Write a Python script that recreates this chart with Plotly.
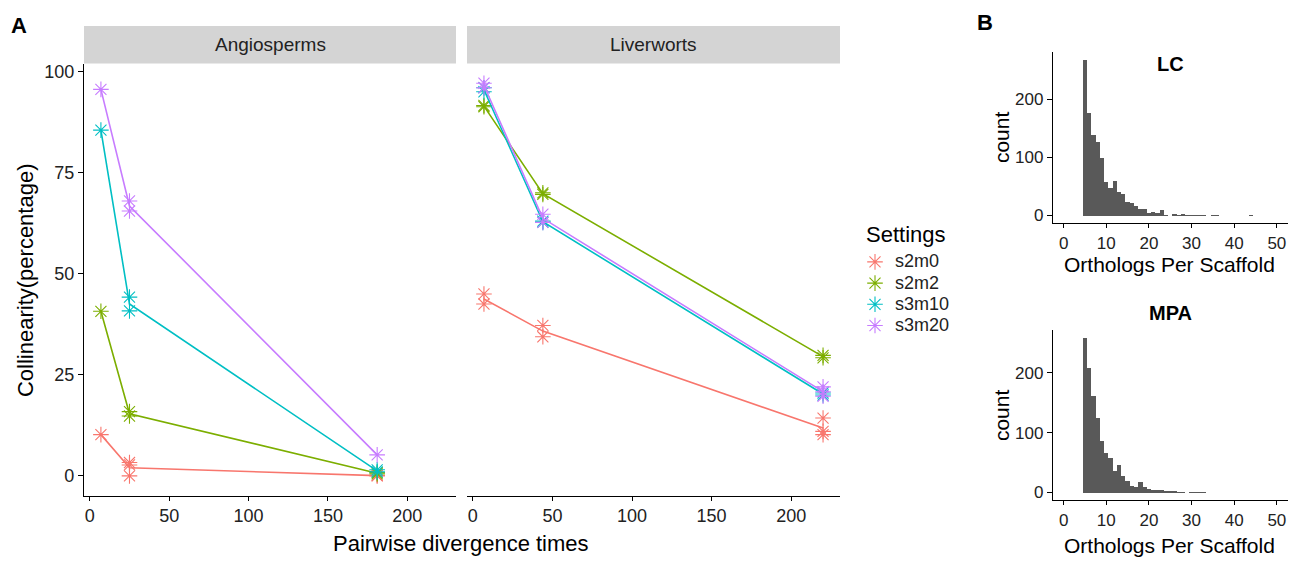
import numpy as np
import plotly.graph_objects as go

# ---------------- data ----------------
SETTINGS = ["s2m0", "s2m2", "s3m10", "s3m20"]
COLORS = ["#F8766D", "#7CAE00", "#00BFC4", "#C77CFF"]

ANG_TIMES = [7, 25, 181]
ANG_S2M0 = [[10.2], [3.3, 2.7, 0.0], [0.0, 0.1]]
ANG_S2M2 = [[40.7], [15.9, 14.8], [0.5, 0.8]]
ANG_S3M10 = [[85.5], [44.2, 40.8], [1.5, 1.0]]
ANG_S3M20 = [[95.6], [68.0, 65.5], [5.2]]

LIV_TIMES = [7, 44, 220]
LIV_S2M0 = [[45.0, 42.5], [37.2, 34.4], [14.3, 11.0, 10.2]]
LIV_S2M2 = [[91.3, 91.6], [69.6, 70.0], [29.8, 29.2]]
LIV_S3M10 = [[95.0, 96.0], [63.0, 62.7], [20.5, 20.0]]
LIV_S3M20 = [[97.1, 96.0], [64.7, 62.7], [22.0, 19.7, 20.8]]

FACET_TICKS = [0, 50, 100, 150, 200]
FACET_YTICKS = [0, 25, 50, 75, 100]

LC_BINS = list(range(5, 45))
LC_COUNTS = [268, 177, 138, 126, 100, 58, 47, 60, 40, 38, 24, 21, 16, 12, 12, 5, 7, 4, 9, 1,
             0, 2, 1, 2, 1, 1, 1, 1, 1, 0, 1, 1, 0, 0, 0, 0, 0, 0, 0, 1]
MPA_BINS = list(range(5, 34))
MPA_COUNTS = [259, 208, 162, 125, 87, 66, 58, 37, 47, 28, 20, 11, 10, 18, 9, 6, 5, 4, 4, 3,
              3, 2, 1, 1, 0, 1, 1, 1, 1]
HIST_TICKS = [0, 10, 20, 30, 40, 50]
HIST_YTICKS = [0, 100, 200]

# ---------------- helpers ----------------
W, H = 1296, 562
OFF = 8  # page body margin in the browser
FONT = "Liberation Sans, Arial, Helvetica, sans-serif"


def px(x):
    return (x - OFF) / W


def py(y):
    return 1 - (y - OFF) / H


fig = go.Figure()


def add_facet(times, series, xa, ya, show):
    for name, col, reps in zip(SETTINGS, COLORS, series):
        xs, ys = [], []
        for t, r in zip(times, reps):
            xs += [t] * len(r)
            ys += r
        means = [float(np.mean(r)) for r in reps]
        fig.add_trace(go.Scatter(x=times, y=means, mode="lines", line=dict(color=col, width=1.6),
                                 xaxis=xa, yaxis=ya, showlegend=False, hoverinfo="skip"))
        fig.add_trace(go.Scatter(x=xs, y=ys, mode="markers",
                                 name=f"<span style='font-size:18px'>{name}</span>",
                                 marker=dict(symbol="asterisk-open", size=13,
                                             line=dict(color=col, width=1.1), color=col),
                                 xaxis=xa, yaxis=ya, showlegend=show, legendgroup=name))


add_facet(ANG_TIMES, [ANG_S2M0, ANG_S2M2, ANG_S3M10, ANG_S3M20], "x", "y", True)
add_facet(LIV_TIMES, [LIV_S2M0, LIV_S2M2, LIV_S3M10, LIV_S3M20], "x2", "y2", False)

fig.add_trace(go.Bar(x=LC_BINS, y=LC_COUNTS, width=1, marker=dict(color="#595959", line=dict(width=0)),
                     xaxis="x3", yaxis="y3", showlegend=False))
fig.add_trace(go.Bar(x=MPA_BINS, y=MPA_COUNTS, width=1, marker=dict(color="#595959", line=dict(width=0)),
                     xaxis="x4", yaxis="y4", showlegend=False))


def axis_style(size=18, ticklen=5):
    return dict(showgrid=False, zeroline=False, showline=True, linecolor="black", linewidth=1.3,
                ticks="outside", ticklen=ticklen, tickwidth=1.1, tickcolor="black",
                tickfont=dict(family=FONT, size=size, color="#222"))


fy0, fy1 = py(497), py(62)
facet_xrange = [-3.65, 230.65]
facet_yrange = [-4.86, 101.96]

lc_max = max(LC_COUNTS)
mpa_max = max(MPA_COUNTS)

fig.update_layout(
    width=W, height=H, margin=dict(l=0, r=0, t=0, b=0),
    paper_bgcolor="white", plot_bgcolor="white",
    font=dict(family=FONT, color="black"),
    bargap=0,
    xaxis=dict(domain=[px(84), px(456)], range=facet_xrange, tickvals=FACET_TICKS, anchor="y",
               **axis_style(18, 4)),
    yaxis=dict(domain=[fy0, fy1], range=facet_yrange, tickvals=FACET_YTICKS, anchor="x", **axis_style(18, 5)),
    xaxis2=dict(domain=[px(467), px(840)], range=facet_xrange, tickvals=FACET_TICKS, anchor="y2",
                **axis_style(18, 4)),
    yaxis2=dict(domain=[fy0, fy1], range=facet_yrange, anchor="x2", showgrid=False, zeroline=False,
                showline=False, showticklabels=False, ticks=""),
    xaxis3=dict(domain=[px(1053), px(1287.5)], range=[-2.5, 52.5], tickvals=HIST_TICKS, anchor="y3",
                **axis_style(17, 4)),
    yaxis3=dict(domain=[py(222.7), py(50)], range=[-0.05 * lc_max, 1.05 * lc_max], tickvals=HIST_YTICKS,
                anchor="x3", **axis_style(17, 5)),
    xaxis4=dict(domain=[px(1053), px(1287.5)], range=[-2.5, 52.5], tickvals=HIST_TICKS, anchor="y4",
                **axis_style(17, 4)),
    yaxis4=dict(domain=[py(501.7), py(330)], range=[-0.05 * mpa_max, 1.05 * mpa_max], tickvals=HIST_YTICKS,
                anchor="x4", **axis_style(17, 5)),
    legend=dict(x=px(855), y=py(246), xanchor="left", yanchor="top", bgcolor="rgba(0,0,0,0)",
                font=dict(family=FONT, size=14, color="#222"), tracegroupgap=0, itemwidth=30),
)

# strips
for x0, x1, label in [(84, 456, "Angiosperms"), (467, 840, "Liverworts")]:
    fig.add_shape(type="rect", xref="paper", yref="paper", x0=px(x0), x1=px(x1), y0=py(62), y1=py(24),
                  fillcolor="#D4D4D4", line=dict(width=0), layer="below")
    fig.add_annotation(text=label, xref="paper", yref="paper", x=px((x0 + x1) / 2), y=py(43),
                       showarrow=False, xanchor="center", yanchor="middle",
                       font=dict(family=FONT, size=19, color="#222"))


def ann(text, x, y, size, bold=False, angle=0, xanchor="center"):
    fig.add_annotation(text=f"<b>{text}</b>" if bold else text, xref="paper", yref="paper",
                       x=px(x), y=py(y), showarrow=False, xanchor=xanchor, yanchor="middle",
                       textangle=angle, font=dict(family=FONT, size=size, color="black"))


ann("A", 9, 24, 22, bold=True, xanchor="left")
ann("B", 975, 21, 22, bold=True, xanchor="left")
ann("Collinearity(percentage)", 25, 280, 22, angle=-90)
ann("Pairwise divergence times", 461, 545, 22)
ann("Settings", 864, 234, 22, xanchor="left")
ann("LC", 1170, 62, 20, bold=True)
ann("MPA", 1170, 313, 20, bold=True)
ann("count", 1001, 136, 21, angle=-90)
ann("count", 1001, 416, 21, angle=-90)
ann("Orthologs Per Scaffold", 1169, 264, 21)
ann("Orthologs Per Scaffold", 1169, 547, 21)

fig.write_html("out.html")
